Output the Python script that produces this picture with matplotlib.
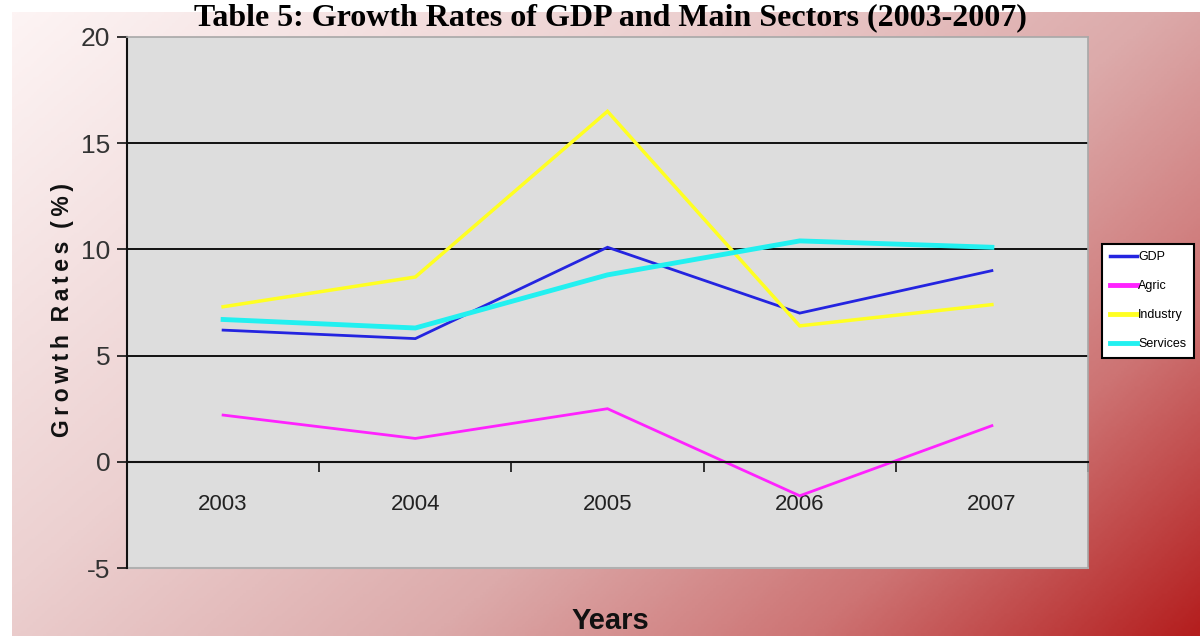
import numpy as np
import matplotlib
matplotlib.use('Agg')
import matplotlib.pyplot as plt
from matplotlib.colors import LinearSegmentedColormap
from matplotlib.ticker import FixedLocator

years = ['2003', '2004', '2005', '2006', '2007']
gdp = [6.2, 5.8, 10.1, 7.0, 9.0]
agric = [2.2, 1.1, 2.5, -1.6, 1.7]
industry = [7.3, 8.7, 16.5, 6.4, 7.4]
services = [6.7, 6.3, 8.8, 10.4, 10.1]
series_names = ['GDP', 'Agric', 'Industry', 'Services']
y_ticks = [-5, 0, 5, 10, 15, 20]
title = 'Table 5: Growth Rates of GDP and Main Sectors (2003-2007)'

W, H = 1200, 636
fig = plt.figure(figsize=(12, 6.36), dpi=100)
fig.patch.set_facecolor('white')

# background gradient
bg = fig.add_axes([12 / W, 0, 1 - 12 / W, (H - 12) / H], zorder=0)
nx, ny = 400, 220
xx, yy = np.meshgrid(np.linspace(0, 1, nx), np.linspace(0, 1, ny))
t = np.clip(0.62 * xx + 0.38 * yy, 0, 1)
cmap = LinearSegmentedColormap.from_list(
    'bg', [(0, '#fdf4f4'), (0.35, '#ecd0d0'), (0.6, '#dcaaaa'),
           (0.8, '#cd7373'), (1, '#b41e1e')])
bg.imshow(t, cmap=cmap, aspect='auto', extent=[0, 1, 0, 1], vmin=0, vmax=1,
          origin='upper')
bg.axis('off')

ax = fig.add_axes([127 / W, 1 - 568 / H, (1088 - 127) / W, (568 - 37) / H], zorder=2)
ax.set_facecolor('#dddddd')

x = np.arange(len(years))
colors = ['#2424e0', '#ff22ff', '#ffff22', '#22f0f0']
widths = [2.0, 2.0, 2.5, 3.5]
for vals, name, c, lw in zip([gdp, agric, industry, services], series_names, colors, widths):
    ax.plot(x, vals, color=c, lw=lw, label=name, solid_joinstyle='miter')

ax.set_xlim(-0.5, len(years) - 0.5)
ax.set_ylim(y_ticks[0], y_ticks[-1])
ax.set_yticks(y_ticks)
ax.set_yticklabels([str(v) for v in y_ticks])
ax.yaxis.grid(True, color='black', lw=1.3)
gl = ax.yaxis.get_gridlines()
gl[0].set_visible(False)
gl[1].set_visible(False)
gl[-1].set_visible(False)
ax.set_axisbelow(True)

for s in ['top', 'right']:
    ax.spines[s].set_color('#a8a8a8')
    ax.spines[s].set_linewidth(1.2)
ax.spines['left'].set_color('#111111')
ax.spines['left'].set_linewidth(1.5)
ax.spines['bottom'].set_position(('data', 0))
ax.spines['bottom'].set_color('#111111')
ax.spines['bottom'].set_linewidth(1.5)
ax.axhline(y_ticks[0], color='#b0b0b0', lw=1.5, clip_on=False, zorder=0.5)

ax.set_xticks(x)
ax.set_xticklabels(years)
ax.xaxis.set_minor_locator(FixedLocator(np.arange(len(years)) + 0.5))
ax.tick_params(axis='x', which='major', length=0, pad=23, labelsize=16,
               labelcolor='#222222')
ax.tick_params(axis='x', which='minor', length=7, width=1.2, direction='out',
               color='#111111')
ax.tick_params(axis='y', which='major', length=7, width=1.2, direction='out',
               color='#111111', pad=5, labelsize=19, labelcolor='#333333')
for lab in ax.get_xticklabels() + ax.get_yticklabels():
    lab.set_fontfamily(['Liberation Sans', 'DejaVu Sans'])

fig.text(610 / W, 1 - 25 / H, title, ha='center', va='baseline', fontsize=23,
         fontweight='bold', family=['Liberation Serif', 'DejaVu Serif'], color='black')
thin = '\u2009'
ylab = '  '.join(thin.join(list(w)) for w in ['Growth', 'Rates', '(%)'])
fig.text(63 / W, 1 - 310 / H, ylab, rotation=90,
         ha='center', va='center', fontsize=16.5, fontweight='bold',
         family=['Liberation Sans', 'DejaVu Sans'], color='#111111')
fig.text(610 / W, 1 - 621 / H, 'Years', ha='center', va='center', fontsize=21,
         fontweight='bold', family=['Liberation Sans', 'DejaVu Sans'],
         color='#111111')

leg = ax.legend(loc='upper left', bbox_to_anchor=(1102 / W, 1 - 244 / H),
                bbox_transform=fig.transFigure, frameon=True, fancybox=False,
                edgecolor='black', facecolor='white', framealpha=1,
                prop={'family': ['Liberation Sans', 'DejaVu Sans'], 'size': 9},
                handlelength=2.2, handletextpad=0.1, labelspacing=1.35,
                borderpad=0.6, borderaxespad=0)
leg.get_frame().set_linewidth(1.5)
for line in leg.get_lines():
    line.set_linewidth(3.5 if line.get_label() != 'GDP' else 2.5)

fig.savefig('out.png', dpi=100)
